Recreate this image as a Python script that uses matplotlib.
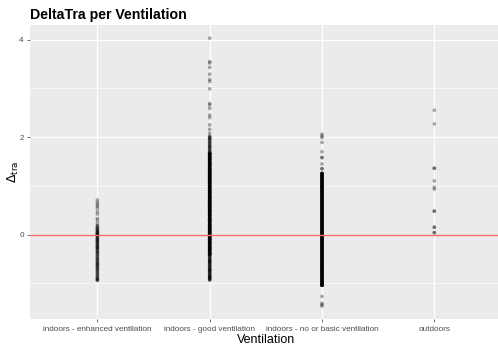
import numpy as np
import matplotlib
matplotlib.use("Agg")
import matplotlib.pyplot as plt

plt.rcParams["font.family"] = ["Liberation Sans", "DejaVu Sans"]

categories = ["indoors - enhanced ventilation", "indoors - good ventilation",
              "indoors - no or basic ventilation", "outdoors"]

# DeltaTra values per ventilation class, with how many observations sit at each value
enhanced_vals = [0.71, 0.66, 0.62, 0.58, 0.54, 0.47, 0.42, 0.33, 0.29, 0.23, 0.18, 0.14,
                 0.11, 0.08, 0.05, 0.03, 0.01, -0.01, -0.03, -0.06, -0.09, -0.12, -0.14,
                 -0.17, -0.20, -0.23, -0.26, -0.28, -0.31, -0.35, -0.38, -0.42, -0.46,
                 -0.50, -0.53, -0.57, -0.60, -0.63, -0.66, -0.70, -0.73, -0.77, -0.81,
                 -0.85, -0.89, -0.92, -0.94]
enhanced_counts = [1] * 10 + [2] * 37

good_vals = [4.03, 3.55, 3.52, 3.43, 3.29, 3.18, 3.14, 2.99, 2.69, 2.66, 2.59, 2.45, 2.40,
             2.25, 2.16, 2.08, 2.02,
             2.00, 1.97, 1.94, 1.90, 1.87, 1.83, 1.80, 1.77, 1.73, 1.70, 1.67,
             1.65, 1.60, 1.55, 1.50, 1.45, 1.40, 1.35, 1.30, 1.25, 1.20, 1.15, 1.10,
             1.05, 1.00, 0.95, 0.90, 0.85, 0.80, 0.75, 0.70, 0.65, 0.60, 0.55, 0.50,
             0.45, 0.40, 0.35, 0.30, 0.25, 0.20, 0.15, 0.10, 0.05, 0.00, -0.05, -0.10,
             -0.15, -0.20, -0.25, -0.30, -0.35, -0.40,
             -0.44, -0.48, -0.52, -0.55, -0.58, -0.62, -0.66, -0.70, -0.73, -0.76,
             -0.80, -0.84, -0.87, -0.90, -0.93]
good_counts = [1] * 17 + [2] * 11 + [8] * 42 + [3] * 15

basic_vals = [2.06, 2.02, 1.99, 1.89, 1.70, 1.58, 1.45, 1.35,
              1.25, 1.20, 1.15, 1.10, 1.05, 1.00, 0.95, 0.90, 0.85, 0.80, 0.75, 0.70,
              0.65, 0.60, 0.55, 0.50, 0.45, 0.40, 0.35, 0.30, 0.25, 0.20, 0.15, 0.10,
              0.05, 0.00, -0.05, -0.10, -0.15, -0.20, -0.25, -0.30, -0.35, -0.40, -0.45,
              -0.50, -0.55, -0.60, -0.65, -0.70, -0.75, -0.80, -0.85, -0.90, -0.95,
              -1.00, -1.04,
              -1.27, -1.41, -1.44, -1.47]
basic_counts = [1, 1, 1, 1, 1, 2, 1, 2] + [8] * 47 + [1] * 4

outdoor_vals = [2.55, 2.27, 1.36, 1.10, 0.97, 0.93, 0.48, 0.15, 0.04]
outdoor_counts = [1, 1, 2, 1, 1, 1, 2, 2, 2]

y_ticks = [0, 2, 4]
y_minor = [-1, 1, 3]

W, H = 498, 347
fig = plt.figure(figsize=(W / 100, H / 100), dpi=100)
ax = fig.add_axes([30 / W, 27.7 / H, 471.7 / W, 294.3 / H])
ax.set_facecolor("#EBEBEB")

for y in y_minor:
    ax.axhline(y, color="white", linewidth=0.45, zorder=0)
for y in y_ticks:
    ax.axhline(y, color="white", linewidth=0.9, zorder=0)
for i in range(len(categories)):
    ax.axvline(i + 1, color="white", linewidth=0.9, zorder=0)

series = [(enhanced_vals, enhanced_counts), (good_vals, good_counts),
          (basic_vals, basic_counts), (outdoor_vals, outdoor_counts)]
for i, (vals, counts) in enumerate(series):
    y = np.repeat(vals, counts)
    ax.scatter(np.full(len(y), i + 1), y, s=7, color="black", alpha=0.33,
               edgecolors="none", zorder=2)

ax.axhline(0, color="#FF6A6A", linewidth=1.0, snap=True, zorder=3)

ax.set_xlim(0.4, 4.6)
ax.set_ylim(-1.74, 4.30)
ax.set_xticks(range(1, len(categories) + 1))
ax.set_xticklabels(categories)
ax.set_yticks(y_ticks)
ax.set_yticklabels([str(t) for t in y_ticks])
ax.tick_params(axis="both", colors="#333333", length=2.5, width=0.5,
               labelsize=5.9, labelcolor="#4D4D4D", pad=2)
for s in ax.spines.values():
    s.set_visible(False)

ax.set_xlabel("Ventilation", fontsize=9, labelpad=1)
ax.set_ylabel(r"$\Delta_{\mathrm{tra}}$", fontsize=9, va="center")
ax.yaxis.set_label_coords(-17 / 471.7, 0.5)

fig.text(30 / W, 1 - 19 / H, "DeltaTra per Ventilation", fontsize=10.2,
         fontweight="bold", ha="left", va="baseline")

fig.savefig("out.png", dpi=100)
